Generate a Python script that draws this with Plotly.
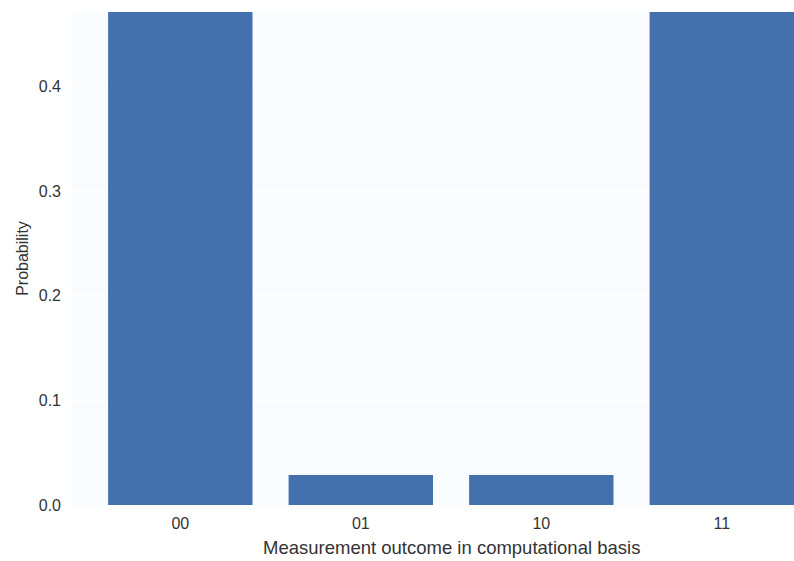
import plotly.graph_objects as go

# Measurement outcomes of a two-qubit state and their probabilities
outcomes = ["00", "01", "10", "11"]
probabilities = [0.4714, 0.0286, 0.0286, 0.4714]
y_ticks = [0.0, 0.1, 0.2, 0.3, 0.4]
y_tick_text = ["0.0", "0.1", "0.2", "0.3", "0.4"]
x_title = "Measurement outcome in computational basis"

fig = go.Figure(
    go.Bar(
        x=outcomes,
        y=probabilities,
        marker=dict(color="#4570ae", line=dict(width=0)),
        width=0.8,
    )
)

fig.update_layout(
    width=794,
    height=561,
    margin=dict(l=72, r=0, t=12, b=56),
    paper_bgcolor="#ffffff",
    plot_bgcolor="#f9fcff",
    font=dict(family="Liberation Sans, Arial, sans-serif", size=16, color="#333333"),
    showlegend=False,
    bargap=0.2,
)

fig.update_xaxes(
    range=[-0.6, 3.4],
    showgrid=False,
    zeroline=False,
    showline=False,
    ticks="",
    ticklabelstandoff=7,
    tickfont=dict(size=16, color="#333333"),
)

# Axis title centred on the middle of the category span
fig.add_annotation(
    x=(len(outcomes) - 1) / 2,
    xref="x",
    y=-0.087,
    yref="paper",
    yanchor="middle",
    text=x_title,
    showarrow=False,
    font=dict(size=18.5, color="#333333"),
)

fig.update_yaxes(
    range=[0, max(probabilities)],
    tickvals=y_ticks,
    ticktext=y_tick_text,
    showgrid=True,
    gridcolor="#ffffff",
    gridwidth=1,
    zeroline=False,
    showline=False,
    ticks="",
    ticklabelstandoff=10,
    tickfont=dict(size=16, color="#333333"),
    title=dict(text="Probability", font=dict(size=16, color="#333333"), standoff=6),
)

fig.write_html("out.html")
